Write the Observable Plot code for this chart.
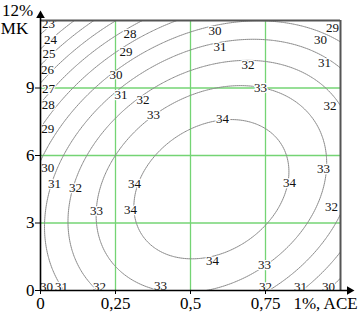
<!DOCTYPE html>
<html><head><meta charset="utf-8">
<script src="https://cdn.jsdelivr.net/npm/d3@7"></script>
<script src="https://cdn.jsdelivr.net/npm/@observablehq/plot@0.6"></script>
<style>body{margin:0;background:#fff}</style>
</head><body><div id="chart"></div>
<script>
// Contour levels shown on the chart
const levels = [23, 24, 25, 26, 27, 28, 29, 30, 31, 32, 33, 34];
// Response-surface coefficients (x = ACE %, y = MK % / 12)
const coefTerms = ["1", "x", "y", "x²", "y²", "xy"];
const coefValues = [30.1, 12.54, 6.15, -13.2, -13.25, 6.66];

const xTicks = [0, 0.25, 0.5, 0.75, 1];
const xTickLabels = ["0", "0,25", "0,5", "0,75", "1%, ACE"];
const yTicks = [0, 3, 6, 9];
const yTickLabels = ["0", "3", "6", "9"];
const yTopLabel = "12%";
const yName = "MK";

// Contour labels (text, position)
const labelText = ["23","24","25","26","27","28","29","30","31","32","33","34","34",
  "28","29","30","31","32","33",
  "30","31","32","33","34",
  "29","30","31","32","33","34","32",
  "30","31","32","33","34","33","32","31","30"];
const labelX = [0.027,0.033,0.028,0.023,0.027,0.026,0.024,0.024,0.047,0.117,0.187,0.313,0.3,
  0.298,0.285,0.252,0.268,0.342,0.377,
  0.582,0.598,0.692,0.733,0.607,
  0.973,0.933,0.947,0.965,0.943,0.83,0.97,
  0.02,0.07,0.197,0.4,0.573,0.747,0.75,0.867,0.96];
const labelY = [11.85,11.13,10.52,9.82,8.98,8.27,7.2,5.47,4.76,4.58,3.56,4.76,3.6,
  11.42,10.62,9.6,8.71,8.49,7.82,
  11.56,10.84,10.04,9.02,7.64,
  11.69,11.16,10.13,8.2,5.42,4.8,3.73,
  0.18,0.18,0.18,0.22,1.33,1.16,0.18,0.18,0.18];

const xDomain = [0, 1], yDomain = [0, 12];
const gridX = [0.25, 0.5, 0.75], gridY = [3, 6, 9];

function surface(x, y) {
  const u = x, v = y / yDomain[1];
  const [b0, b1, b2, b11, b22, b12] = coefValues;
  return b0 + b1 * u + b2 * v + b11 * u * u + b22 * v * v + b12 * u * v;
}

const xArrow = xDomain[1] * 1.04, yArrow = yDomain[1] * 1.035;
const serif = "'Liberation Serif', 'Times New Roman', serif";

const chart = Plot.plot({
  width: 361, height: 313,
  marginLeft: 40, marginRight: 21, marginTop: 20, marginBottom: 23,
  x: {domain: xDomain},
  y: {domain: yDomain},
  style: {fontFamily: serif, background: "white", color: "black", overflow: "visible"},
  marks: [
    Plot.ruleX(gridX, {stroke: "#74d474", strokeWidth: 1.3}),
    Plot.ruleY(gridY, {stroke: "#74d474", strokeWidth: 1.3}),
    Plot.contour({
      value: surface,
      x1: -0.03, x2: 1.03, y1: -0.4, y2: 12.4,
      thresholds: levels,
      stroke: "#8a8a8a", strokeWidth: 1, fill: "none",
      clip: "frame"
    }),
    Plot.text(labelText, {x: labelX, y: labelY, text: labelText, fontSize: 13, fontFamily: serif,
      fill: "#111", stroke: "white", strokeWidth: 2.5}),
    Plot.ruleY([yDomain[1]], {x1: xDomain[0], x2: xDomain[1], stroke: "#555", strokeWidth: 2}),
    Plot.ruleX([xDomain[1]], {y1: yDomain[0], y2: yDomain[1], stroke: "#555", strokeWidth: 2}),
    Plot.ruleX([xDomain[0]], {y1: yDomain[0], y2: yArrow - 0.2, stroke: "black", strokeWidth: 1.6}),
    Plot.ruleY([yDomain[0]], {x1: xDomain[0], x2: xArrow - 0.01, stroke: "black", strokeWidth: 1.6}),
    Plot.dot([0], {x: xDomain[0], y: yArrow - 0.2, symbol: "triangle", fill: "black", stroke: "none", r: 3.2}),
    Plot.dot([0], {x: xArrow - 0.01, y: yDomain[0], symbol: "triangle", fill: "black", stroke: "none", r: 3.2, rotate: 90}),
    Plot.axisX(xTicks.slice(0, 4), {tickFormat: d => xTickLabels[xTicks.indexOf(d)], fontSize: 17,
      fontFamily: serif, tickSize: 4, tickPadding: 2, label: null}),
    Plot.axisX(xTicks.slice(4), {tickFormat: d => xTickLabels[xTicks.indexOf(d)], fontSize: 17,
      fontFamily: serif, tickSize: 0, tickPadding: 6, dx: -15, label: null}),
    Plot.axisY(yTicks, {tickFormat: d => yTickLabels[yTicks.indexOf(d)], fontSize: 17,
      fontFamily: serif, tickSize: 5, tickPadding: 1, label: null}),
    Plot.text([yTopLabel], {x: xDomain[0], y: yDomain[1], text: d => d, dx: -23, dy: -10, fontSize: 17, fontFamily: serif}),
    Plot.text([yName], {x: xDomain[0], y: yDomain[1], text: d => d, dx: -26, dy: 8, fontSize: 17, fontFamily: serif})
  ]
});
document.getElementById("chart").appendChild(chart);
</script>
</body></html>
